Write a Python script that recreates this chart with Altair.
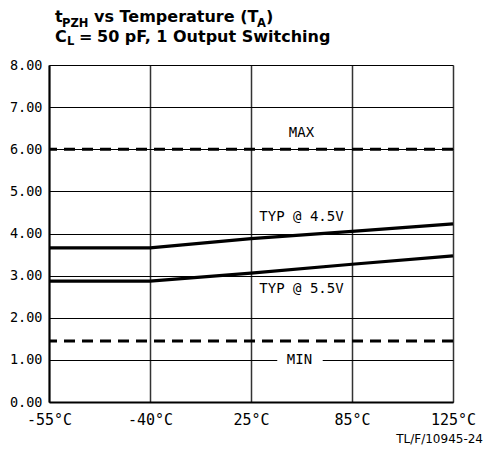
import json
import altair as alt
import pandas as pd

# ---- data ----
temps = ["-55°C", "-40°C", "25°C", "85°C", "125°C"]
typ_45v = [3.66, 3.66, 3.88, 4.05, 4.23]
typ_55v = [2.87, 2.87, 3.06, 3.27, 3.47]
max_limit = 6.0
min_limit = 1.45
y_ticks = [0, 1, 2, 3, 4, 5, 6, 7, 8]

label_texts = ["MAX", "TYP @ 4.5V", "TYP @ 5.5V", "MIN"]
label_x = [2.5, 2.5, 2.5, 2.48]
label_y = [6.39, 4.39, 2.68, 1.0]

W, H = 404, 337
MONO = "DejaVu Sans Mono"
BOLD = "DejaVu Sans"

idx = list(range(len(temps)))
curves = pd.DataFrame({
    "i": idx * 2,
    "v": typ_45v + typ_55v,
    "s": ["4.5V"] * len(idx) + ["5.5V"] * len(idx),
})
limits = pd.DataFrame({"v": [max_limit, min_limit], "s": ["MAX", "MIN"]})
labels = pd.DataFrame({"t": label_texts, "x": label_x, "y": label_y})

label_expr = json.dumps(temps) + "[datum.value]"
xs = alt.Scale(domain=[0, len(temps) - 1], nice=False, zero=False)
ys = alt.Scale(domain=[0, 8], nice=False, zero=True)

x_axis = alt.Axis(values=idx, labelExpr=label_expr, title=None, grid=True,
                  gridColor="#333", gridWidth=1.5, ticks=False,
                  labelFont=MONO, labelFontSize=15, labelColor="#000",
                  labelPadding=10, domainColor="#000", domainWidth=2,
                  labelFlush=False)
y_axis = alt.Axis(values=y_ticks, format=".2f", title=None, grid=True,
                  gridColor="#000", gridWidth=1, ticks=False,
                  labelFont=MONO, labelFontSize=13.5, labelColor="#000",
                  labelPadding=7, domainColor="#000", domainWidth=2)

base = alt.Chart(curves).mark_line(color="#000", strokeWidth=3.2).encode(
    x=alt.X("i:Q", scale=xs, axis=x_axis),
    y=alt.Y("v:Q", scale=ys, axis=y_axis),
    detail="s:N",
)

limit_rules = alt.Chart(limits).mark_rule(
    color="#000", strokeWidth=3, strokeDash=[11, 7]
).encode(y=alt.Y("v:Q", scale=ys))

# white gap in the 1.00 grid line behind the MIN label
gap = alt.Chart(alt.Data(values=[{"a": 2.26, "b": 2.71, "c": 0.85, "d": 1.15}])).mark_rect(
    color="white"
).encode(x=alt.X("a:Q", scale=xs), x2="b:Q", y=alt.Y("c:Q", scale=ys), y2="d:Q")

text_labels = alt.Chart(labels).mark_text(
    font=MONO, fontSize=14, color="#000", baseline="middle", align="center"
).encode(x=alt.X("x:Q", scale=xs), y=alt.Y("y:Q", scale=ys), text="t:N")


def txt(s, x, y, size=16, bold=True, font=BOLD, align="left"):
    return alt.Chart(alt.Data(values=[{"t": s}])).mark_text(
        font=font, fontSize=size, fontWeight="bold" if bold else "normal",
        color="#000", align=align, baseline="alphabetic",
    ).encode(x=alt.value(x), y=alt.value(y), text="t:N")


title_parts = [
    txt("t", 6, -43),
    txt("PZH", 13, -38, size=11.5),
    txt("vs Temperature (T", 45, -43),
    txt("A", 208, -38, size=11.5),
    txt(")", 217, -43),
    txt("C", 6, -23),
    txt("L", 18, -20, size=11.5),
    txt("=", 30, -23),
    txt("50 pF, 1 Output Switching", 48, -23),
    txt("TL/F/10945-24", 434, 378, size=12, bold=False, font="DejaVu Sans", align="right"),
]

chart = alt.layer(base, limit_rules, gap, text_labels, *title_parts).properties(
    width=W, height=H,
    autosize=alt.AutoSizeParams(type="none"),
    padding={"left": 41, "top": 57, "right": 30, "bottom": 43},
).configure_view(stroke="#000", strokeWidth=1.5).configure(background="white")

chart.save("out.html", embed_options={"renderer": "svg", "actions": False})
